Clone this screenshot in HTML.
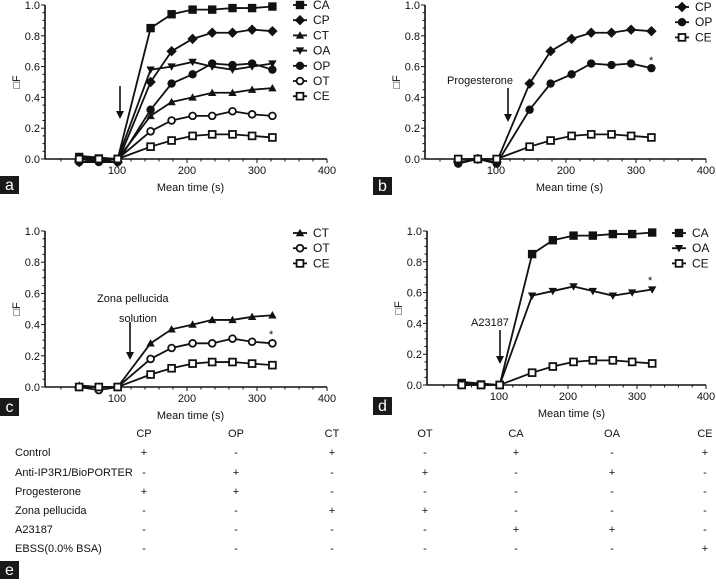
<!DOCTYPE html>
<html><head><meta charset="utf-8">
<style>
body{margin:0;background:#fff;width:716px;height:579px;overflow:hidden;font-family:"Liberation Sans",Arial,sans-serif;}
svg text{font-family:"Liberation Sans",Arial,sans-serif;}
</style></head>
<body>
<svg id="fig" width="716" height="579" viewBox="0 0 716 579" xmlns="http://www.w3.org/2000/svg">
<g id="tbl"></g>
</svg>
<script>
const times = [46,74,101,148,178,208,236,265,293,322];
const seriesNames = ['CA','CP','CT','OA','OP','OT','CE'];
const CA = [0.01,0.0,0.0,0.85,0.94,0.97,0.97,0.98,0.98,0.99];
const CP = [-0.02,-0.01,-0.02,0.50,0.70,0.78,0.82,0.82,0.84,0.83];
const CT = [0.01,0.0,0.0,0.28,0.37,0.40,0.43,0.43,0.45,0.46];
const OA = [0.02,0.01,0.0,0.58,0.60,0.63,0.60,0.58,0.60,0.62];
const OP = [-0.02,-0.02,-0.02,0.32,0.49,0.55,0.62,0.61,0.62,0.58];
const OT = [0.0,-0.01,0.0,0.18,0.25,0.28,0.28,0.31,0.29,0.28];
const CE = [0.0,0.0,0.0,0.08,0.12,0.15,0.16,0.16,0.15,0.14];
const CPb = [-0.02,0.0,-0.02,0.49,0.70,0.78,0.82,0.82,0.84,0.83];
const OPb = [-0.03,0.0,-0.03,0.32,0.49,0.55,0.62,0.61,0.62,0.59];
const OTc = [0.0,-0.02,0.0,0.18,0.25,0.28,0.28,0.31,0.29,0.28];
const OAd = [0.02,0.01,0.0,0.58,0.61,0.64,0.61,0.58,0.60,0.62];
const xTicks = [100,200,300,400];
const yTicks = [0.0,0.2,0.4,0.6,0.8,1.0];
const tableCols = ['CP','OP','CT','OT','CA','OA','CE'];
const tableRows = ['Control','Anti-IP3R1/BioPORTER','Progesterone','Zona pellucida','A23187','EBSS(0.0% BSA)'];
const tableVals = [
 ['+','-','+','-','+','-','+'],
 ['-','+','-','+','-','+','-'],
 ['+','+','-','-','-','-','-'],
 ['-','-','+','+','-','-','-'],
 ['-','-','-','-','+','+','-'],
 ['-','-','-','-','-','-','+']];

const NS='http://www.w3.org/2000/svg';
const fig=document.getElementById('fig');
function mk(tag,attrs,parent){const e=document.createElementNS(NS,tag);for(const k in attrs)e.setAttribute(k,attrs[k]);(parent||fig).appendChild(e);return e;}
function txt(s,x,y,attrs,parent){const t=mk('text',Object.assign({x:x,y:y,'font-size':11,fill:'#111'},attrs||{}),parent);t.textContent=s;return t;}

function marker(g,type,cx,cy){
  const s=4.2; let e;
  if(type==='CA'){e=mk('rect',{x:cx-s,y:cy-s,width:2*s,height:2*s,fill:'#111'},g);}
  else if(type==='CP'){e=mk('polygon',{points:`${cx},${cy-s-1} ${cx+s+1},${cy} ${cx},${cy+s+1} ${cx-s-1},${cy}`,fill:'#111'},g);}
  else if(type==='CT'){e=mk('polygon',{points:`${cx},${cy-s} ${cx+s},${cy+s-1} ${cx-s},${cy+s-1}`,fill:'#111'},g);}
  else if(type==='OA'){e=mk('polygon',{points:`${cx},${cy+s} ${cx+s},${cy-s+1} ${cx-s},${cy-s+1}`,fill:'#111'},g);}
  else if(type==='OP'){e=mk('circle',{cx:cx,cy:cy,r:s,fill:'#111'},g);}
  else if(type==='OT'){e=mk('circle',{cx:cx,cy:cy,r:s-0.8,fill:'#fff',stroke:'#111','stroke-width':1.8},g);}
  else {e=mk('rect',{x:cx-s+0.8,y:cy-s+0.8,width:2*s-1.6,height:2*s-1.6,fill:'#fff',stroke:'#111','stroke-width':1.8},g);}
  
  
}

function panel(cfg){
  const g=mk('g',{});
  
  
  const X=t=>cfg.x0+t*cfg.sx;
  const Y=v=>cfg.y0-v*cfg.sy;
  const xa=mk('line',{x1:cfg.ax,y1:cfg.y0,x2:X(400),y2:cfg.y0,stroke:'#111','stroke-width':1.6},g);
  
  const ya=mk('line',{x1:cfg.ax,y1:cfg.y0,x2:cfg.ax,y2:Y(1),stroke:'#111','stroke-width':1.6},g);
  
  for(let t=20;t<=400;t+=20){const big=t%100===0;mk('line',{x1:X(t),y1:cfg.y0,x2:X(t),y2:cfg.y0+(big?4:2.5),stroke:'#111','stroke-width':1},g);}
  for(let v=0;v<=1.0001;v+=0.05){const big=Math.abs(v*5-Math.round(v*5))<1e-6;mk('line',{x1:cfg.ax,y1:Y(v),x2:cfg.ax-(big?4:2.5),y2:Y(v),stroke:'#111','stroke-width':1},g);}
  xTicks.forEach(t=>{const e=txt(String(t),X(t),cfg.y0+15,{'text-anchor':'middle'},g);});
  yTicks.forEach(v=>{const e=txt(v.toFixed(1),cfg.ax-5,Y(v)+4,{'text-anchor':'end'},g);});
  const xt=txt('Mean time (s)',X(205),cfg.y0+32,{'text-anchor':'middle'},g);
  
  const yy=Y(0.5);
  const yt=txt('\u25A1F',cfg.ax-25,yy,{'text-anchor':'middle',transform:`rotate(-90 ${cfg.ax-25} ${yy})`},g);
  
  cfg.series.forEach(s=>{
    const pts=times.map((t,i)=>X(t)+','+Y(s.vals[i])).join(' ');
    const l=mk('polyline',{points:pts,fill:'none',stroke:'#111','stroke-width':1.8},g);
    
    times.forEach((t,i)=>marker(g,s.name,X(t),Y(s.vals[i])));
  });
  cfg.series.forEach((s,i)=>{
    const ly=cfg.legY+i*15.2;
    mk('line',{x1:cfg.legX-7,y1:ly,x2:cfg.legX+7,y2:ly,stroke:'#111','stroke-width':1.8},g);
    marker(g,s.name,cfg.legX,ly);
    const e=txt(s.name,cfg.legX+13,ly+4,{'font-size':12},g);
    
  });
  if(cfg.arrow){
    const a=cfg.arrow;
    mk('line',{x1:a.x,y1:a.y1,x2:a.x,y2:a.y2-6,stroke:'#111','stroke-width':1.6},g);
    const h=mk('polygon',{points:`${a.x-4},${a.y2-8} ${a.x+4},${a.y2-8} ${a.x},${a.y2}`,fill:'#111'},g);
    
  }
  (cfg.notes||[]).forEach(n=>{const e=txt(n.s,n.x,n.y,{'font-size':n.fs||11},g);});
  const lb=mk('rect',{x:cfg.lbx,y:cfg.lby,width:19,height:18,fill:'#1a1a1a'},g);
  
  const lt=txt(cfg.label,cfg.lbx+9.5,cfg.lby+14,{'text-anchor':'middle',fill:'#fff','font-size':16},g);
  
}

panel({label:'a',ax:45,x0:47,sx:0.70,y0:159,sy:154,legX:300,legY:5,lbx:0,lby:176,
  series:[{name:'CA',vals:CA},{name:'CP',vals:CP},{name:'CT',vals:CT},{name:'OA',vals:OA},{name:'OP',vals:OP},{name:'OT',vals:OT},{name:'CE',vals:CE}],
  arrow:{x:120,y1:86,y2:119}});
panel({label:'b',ax:425,x0:426,sx:0.70,y0:159,sy:154,legX:682,legY:7,lbx:373,lby:177,
  series:[{name:'CP',vals:CPb},{name:'OP',vals:OPb},{name:'CE',vals:CE}],
  arrow:{x:508,y1:88,y2:122},
  notes:[{s:'Progesterone',x:447,y:84,name:'progesterone-annotation'},{s:'*',x:649,y:64,name:'significance-star'}]});
panel({label:'c',ax:45,x0:47,sx:0.70,y0:387,sy:156,legX:300,legY:233,lbx:0,lby:398,
  series:[{name:'CT',vals:CT},{name:'OT',vals:OTc},{name:'CE',vals:CE}],
  arrow:{x:130,y1:322,y2:360},
  notes:[{s:'Zona pellucida',x:97,y:302,name:'zona-annotation'},{s:'solution',x:119,y:322,name:'zona-annotation-2'},{s:'*',x:269,y:338,name:'significance-star'}]});
panel({label:'d',ax:427,x0:430,sx:0.69,y0:385,sy:154,legX:679,legY:233,lbx:373,lby:397,
  series:[{name:'CA',vals:CA},{name:'OA',vals:OAd},{name:'CE',vals:CE}],
  arrow:{x:500,y1:330,y2:364},
  notes:[{s:'A23187',x:471,y:326,name:'a23187-annotation'},{s:'*',x:648,y:284,name:'significance-star'}]});

// table
const tbl=document.getElementById('tbl');
const colX=[144,236,332,425,516,612,705];
const rowY=[456,476,495,514,533,552];
tableCols.forEach((c,i)=>{const e=txt(c,colX[i],437,{'text-anchor':'middle'},tbl);});
tableRows.forEach((r,j)=>{
  const e=txt(r,15,rowY[j],{},tbl);
  tableVals[j].forEach((v,i)=>{const c=txt(v,colX[i],rowY[j],{'text-anchor':'middle'},tbl);});
});
const eb=mk('rect',{x:0,y:561,width:19,height:18,fill:'#1a1a1a'},tbl);

const et=txt('e',9.5,575,{'text-anchor':'middle',fill:'#fff','font-size':16},tbl);

</script>
</body></html>
